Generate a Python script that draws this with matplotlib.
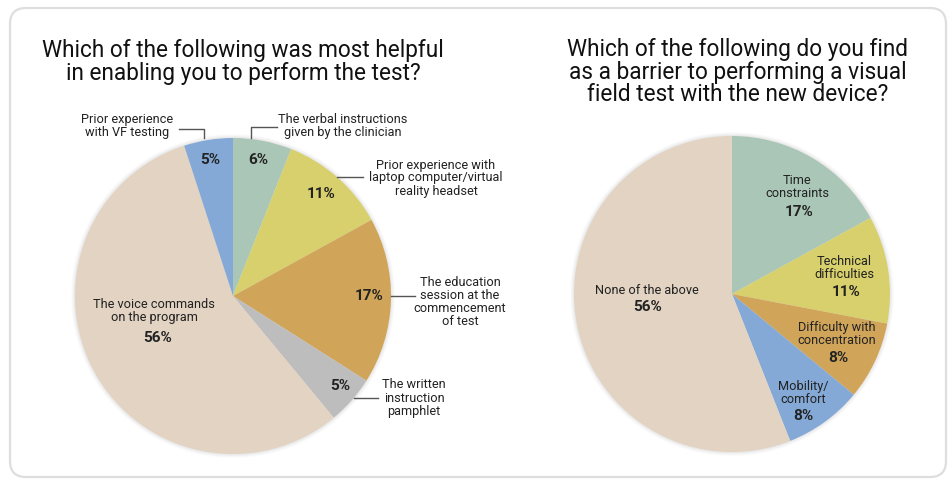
import matplotlib.pyplot as plt
from matplotlib.patches import FancyBboxPatch, Circle

plt.rcParams['font.family'] = ['Roboto', 'DejaVu Sans']

W, H = 953, 483

# left chart data (clockwise from 12 o'clock)
left_title = "Which of the following was most helpful\nin enabling you to perform the test?"
left_labels = ["The verbal instructions\ngiven by the clinician",
               "Prior experience with\nlaptop computer/virtual\nreality headset",
               "The education\nsession at the\ncommencement\nof test",
               "The written\ninstruction\npamphlet",
               "The voice commands\non the program",
               "Prior experience\nwith VF testing"]
left_values = [6, 11, 17, 5, 56, 5]
left_colors = ["#aac6b6", "#d8d06c", "#d0a55a", "#bdbdbd", "#e2d3c2", "#84a9d6"]

# right chart data
right_title = "Which of the following do you find\nas a barrier to performing a visual\nfield test with the new device?"
right_labels = ["Time\nconstraints", "Technical\ndifficulties", "Difficulty with\nconcentration",
                "Mobility/\ncomfort", "None of the above"]
right_values = [17, 11, 8, 8, 56]
right_colors = ["#aac6b6", "#d8d06c", "#d0a55a", "#84a9d6", "#e2d3c2"]

def Y(y):
    return H - y

fig = plt.figure(figsize=(W / 100, H / 100), dpi=100)
ax = fig.add_axes([0, 0, 1, 1])

# card background
card = FancyBboxPatch((10, Y(477)), 936, 469, boxstyle="round,pad=0,rounding_size=16",
                      facecolor="white", edgecolor="#dedede", linewidth=1.6, zorder=0)
ax.add_patch(card)

R = 158
lc = (233, Y(296))
rc = (732, Y(294))

# soft shadow round the pies
for c in (lc, rc):
    for k, a in [(4, 0.03), (3, 0.04), (2, 0.05), (1, 0.07)]:
        ax.add_patch(Circle(c, R + k, facecolor="#8a8a8a", alpha=a, edgecolor="none", zorder=1))

ax.pie(left_values, colors=left_colors, startangle=90, counterclock=False,
       center=lc, radius=R, wedgeprops=dict(linewidth=0, zorder=2))
ax.pie(right_values, colors=right_colors, startangle=90, counterclock=False,
       center=rc, radius=R, wedgeprops=dict(linewidth=0, zorder=2))

ax.set_xlim(0, W)
ax.set_ylim(0, H)
ax.set_aspect('auto')
ax.axis('off')

tfont = dict(fontsize=16.3, color="#111111", ha="center", va="center", linespacing=0.98)
ax.text(243, Y(62), left_title, **tfont)
ax.text(738, Y(72), right_title, **tfont)

lab = dict(fontsize=9.2, color="#222222", ha="center", va="center", linespacing=1.0)
pct = dict(fontsize=11, color="#222222", ha="center", va="center", fontweight="bold")
line = dict(color="#555555", linewidth=1)

# left: outside labels with leader lines
ax.text(343, Y(126), left_labels[0], **lab)
ax.plot([251, 251, 277], [Y(138), Y(127), Y(127)], **line)
ax.text(436, Y(178), left_labels[1], **lab)
ax.plot([337, 363], [Y(177), Y(177)], **line)
ax.text(460, Y(302), left_labels[2], **lab)
ax.plot([391, 415], [Y(296), Y(296)], **line)
ax.text(414, Y(398), left_labels[3], **lab)
ax.plot([354, 378], [Y(398), Y(398)], **line)
ax.text(154, Y(311), left_labels[4], **lab)
ax.text(127, Y(126), left_labels[5], **lab)
ax.plot([179, 204, 204], [Y(129), Y(129), Y(138)], **line)

left_pct_pos = [(258, 160), (321, 194), (369, 296), (340, 386), (158, 338), (210, 160)]
for v, (x, y) in zip(left_values, left_pct_pos):
    ax.text(x, Y(y), f"{v}%", **pct)

# right: labels inside wedges
right_lab_pos = [(797, 187), (844, 268), (837, 334), (803, 393), (647, 290)]
right_pct_pos = [(799, 212), (846, 292), (838, 358), (803, 416), (648, 307)]
for t, v, (x, y), (px, py) in zip(right_labels, right_values, right_lab_pos, right_pct_pos):
    ax.text(x, Y(y), t, **lab)
    ax.text(px, Y(py), f"{v}%", **pct)

fig.savefig("out.png", dpi=100)
